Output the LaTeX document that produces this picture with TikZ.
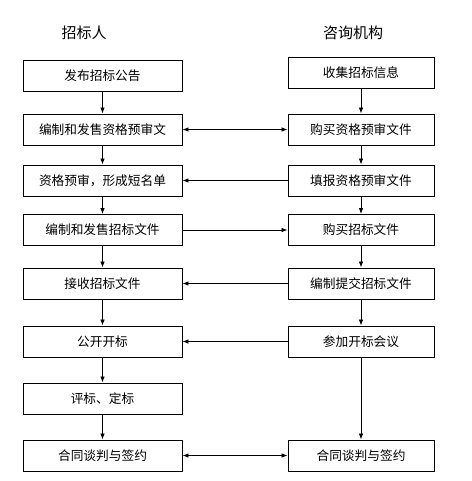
\documentclass[tikz,border=0pt]{standalone}
\usepackage{fontspec}
\newfontfamily\cjk{Noto Sans CJK SC}
\usetikzlibrary{arrows.meta,positioning}

\begin{document}
\begin{tikzpicture}[x=1pt, y=-1pt,
    every node/.style={font=\cjk\fontsize{12.7}{14}\selectfont},
    stepbox/.style={draw, line width=0.9pt, minimum height=31pt, inner sep=0pt},
    leftbox/.style={stepbox, minimum width=159pt},
    rightbox/.style={stepbox, minimum width=146pt},
    flow/.style={-{Latex[length=6pt,width=4.5pt]}, line width=0.8pt},
    both/.style={{Latex[length=6pt,width=4.5pt]}-{Latex[length=6pt,width=4.5pt]}, line width=0.8pt}]

    \useasboundingbox (0,0) rectangle (471,481);

    % --- Column headers ---
    \node[font=\cjk\fontsize{15}{17}\selectfont] (hl) at (84,33) {招标人};
    \node[font=\cjk\fontsize{15}{17}\selectfont] (hr) at (353,33) {咨询机构};

    % --- Left column: tenderer ---
    \node[leftbox] (l1) at (102.5,76)    {发布招标公告};
    \node[leftbox] (l2) at (102.5,129.5) {编制和发售资格预审文};
    \node[leftbox] (l3) at (102.5,180.5) {资格预审，形成短名单};
    \node[leftbox] (l4) at (102.5,230)   {编制和发售招标文件};
    \node[leftbox] (l5) at (102.5,283.5) {接收招标文件};
    \node[leftbox] (l6) at (102.5,341.5) {公开开标};
    \node[leftbox] (l7) at (102.5,398.5) {评标、定标};
    \node[leftbox] (l8) at (102.5,455.5) {合同谈判与签约};

    % --- Right column: agency ---
    \node[rightbox] (r1) at (361,73)    {收集招标信息};
    \node[rightbox] (r2) at (361,129.5) {购买资格预审文件};
    \node[rightbox] (r3) at (361,180.5) {填报资格预审文件};
    \node[rightbox] (r4) at (361,230)   {购买招标文件};
    \node[rightbox] (r5) at (361,283.5) {编制提交招标文件};
    \node[rightbox] (r6) at (361,341.5) {参加开标会议};
    \node[rightbox] (r8) at (361,455.5) {合同谈判与签约};

    % Vertical flow
    \foreach \a/\b in {l1/l2, l2/l3, l3/l4, l4/l5, l5/l6, l6/l7, l7/l8,
                       r1/r2, r2/r3, r3/r4, r4/r5, r5/r6, r6/r8}
        \draw[flow] (\a) -- (\b);

    % Exchanges between the columns
    \draw[both] (l2) -- (r2);
    \draw[flow] (r3) -- (l3);
    \draw[flow] (l4) -- (r4);
    \draw[flow] (r5) -- (l5);
    \draw[flow] (r6) -- (l6);
    \draw[both] (l8) -- (r8);

\end{tikzpicture}
\end{document}
